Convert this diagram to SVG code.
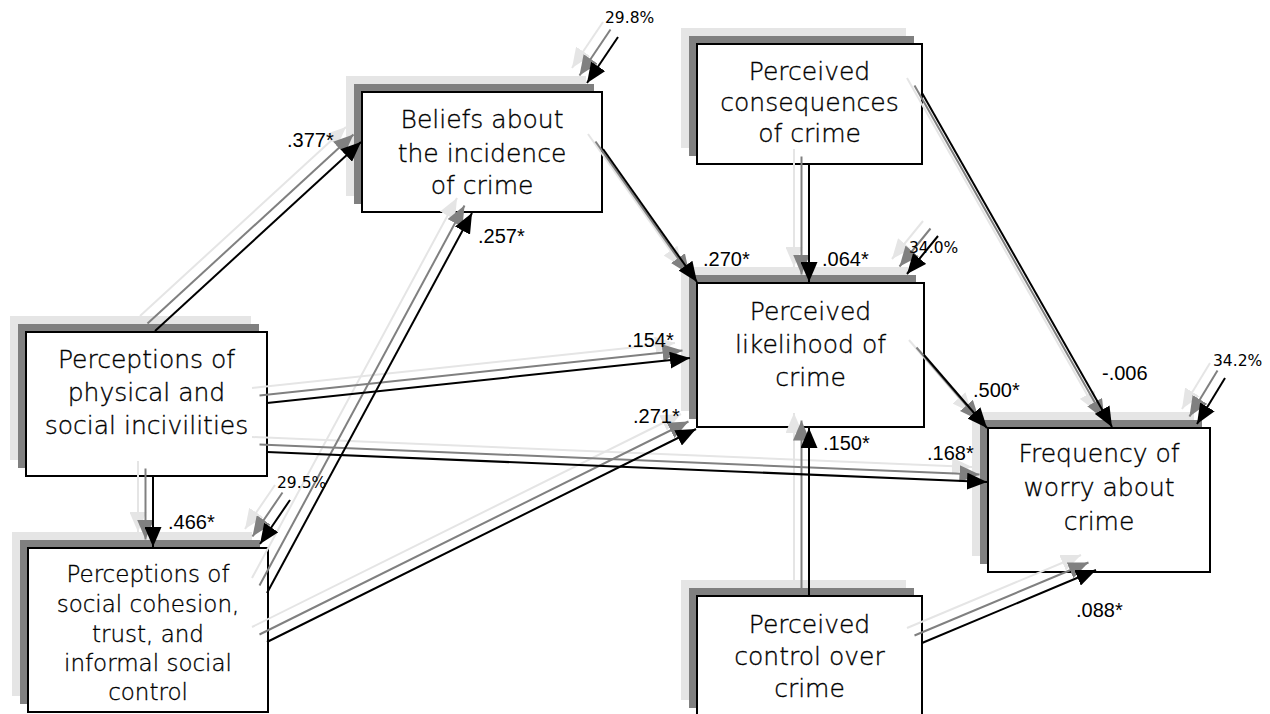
<svg xmlns="http://www.w3.org/2000/svg" width="1270" height="714" viewBox="0 0 1270 714">
<style>
.bg{fill:#ffffff}
.sl{fill:#e5e5e5}
.sd{fill:#808080}
.box{fill:#ffffff;stroke:#000000;stroke-width:2}
.nt{font-family:"DejaVu Sans","Liberation Sans",sans-serif;font-size:25px;font-weight:300;fill:#000000;stroke:#000000;stroke-width:0.35;text-anchor:middle}
.nts{font-size:23px}
.ln{fill:none;stroke-width:2}
.L .ln{stroke:#e5e5e5;marker-end:url(#aL)}
.D .ln{stroke:#808080;marker-end:url(#aD)}
.K .ln{stroke:#000000;marker-end:url(#aK)}
.coef{font-family:"Liberation Sans",Arial,sans-serif;font-size:20px;fill:#000000}
.pct{font-family:"DejaVu Sans","Liberation Sans",sans-serif;font-size:15.5px;fill:#000000}
</style>
<defs>
<marker id="aK" markerUnits="userSpaceOnUse" markerWidth="20" markerHeight="17" refX="20" refY="8.5" orient="auto"><path d="M0,0 L20,8.5 L0,17 z" fill="#000000"/></marker>
<marker id="aD" markerUnits="userSpaceOnUse" markerWidth="20" markerHeight="17" refX="20" refY="8.5" orient="auto"><path d="M0,0 L20,8.5 L0,17 z" fill="#808080"/></marker>
<marker id="aL" markerUnits="userSpaceOnUse" markerWidth="20" markerHeight="17" refX="20" refY="8.5" orient="auto"><path d="M0,0 L20,8.5 L0,17 z" fill="#e5e5e5"/></marker>
</defs>
<rect class="bg" x="0" y="0" width="1270" height="714"/>

<g id="node-beliefs">
<rect class="sl" x="346" y="76" width="240" height="120"/>
<rect class="sd" x="354" y="84" width="240" height="120"/>
<rect class="box" x="362" y="92" width="240" height="120"/>
<text class="nt"><tspan x="482" y="128">Beliefs about</tspan><tspan x="482" y="162">the incidence</tspan><tspan x="482" y="194">of crime</tspan></text>
</g>

<g id="node-consequences">
<rect class="sl" x="681" y="28" width="225" height="120"/>
<rect class="sd" x="689" y="36" width="225" height="120"/>
<rect class="box" x="697" y="44" width="225" height="120"/>
<text class="nt"><tspan x="809.5" y="80">Perceived</tspan><tspan x="809.5" y="111">consequences</tspan><tspan x="809.5" y="142">of crime</tspan></text>
</g>

<g id="node-incivilities">
<rect class="sl" x="10" y="316" width="241" height="144"/>
<rect class="sd" x="18" y="324" width="241" height="144"/>
<rect class="box" x="26" y="332" width="241" height="144"/>
<text class="nt"><tspan x="146.5" y="368">Perceptions of</tspan><tspan x="146.5" y="401">physical and</tspan><tspan x="146.5" y="434">social incivilities</tspan></text>
</g>

<g id="node-cohesion">
<rect class="sl" x="12" y="532" width="240" height="164"/>
<rect class="sd" x="20" y="540" width="240" height="164"/>
<rect class="box" x="28" y="548" width="240" height="164"/>
<text class="nt nts"><tspan x="148" y="582">Perceptions of</tspan><tspan x="148" y="612">social cohesion,</tspan><tspan x="148" y="642">trust, and</tspan><tspan x="148" y="671">informal social</tspan><tspan x="148" y="700">control</tspan></text>
</g>

<g id="node-likelihood">
<rect class="sl" x="681" y="267" width="227" height="144"/>
<rect class="sd" x="689" y="275" width="227" height="144"/>
<rect class="box" x="697" y="283" width="227" height="144"/>
<text class="nt"><tspan x="810.5" y="320">Perceived</tspan><tspan x="810.5" y="353">likelihood of</tspan><tspan x="810.5" y="386">crime</tspan></text>
</g>

<g id="node-frequency">
<rect class="sl" x="972" y="412" width="222" height="144"/>
<rect class="sd" x="980" y="420" width="222" height="144"/>
<rect class="box" x="988" y="428" width="222" height="144"/>
<text class="nt"><tspan x="1099" y="462">Frequency of</tspan><tspan x="1099" y="496">worry about</tspan><tspan x="1099" y="530">crime</tspan></text>
</g>

<g id="node-control">
<rect class="sl" x="681" y="580" width="225" height="120"/>
<rect class="sd" x="689" y="588" width="225" height="120"/>
<rect class="box" x="697" y="596" width="225" height="120"/>
<text class="nt"><tspan x="809.5" y="633">Perceived</tspan><tspan x="809.5" y="665">control over</tspan><tspan x="809.5" y="697">crime</tspan></text>
</g>

<g id="connectors">
<g class="L" transform="translate(-15,-15)">
<line class="ln" x1="155" y1="331" x2="361" y2="142"/>
<line class="ln" x1="267" y1="593" x2="472" y2="213"/>
<line class="ln" x1="267" y1="642" x2="696" y2="429"/>
<line class="ln" x1="267" y1="403" x2="690" y2="358"/>
<line class="ln" x1="267" y1="452" x2="987" y2="482"/>
<line class="ln" x1="153" y1="476" x2="153" y2="547"/>
<line class="ln" x1="603" y1="149" x2="697" y2="282"/>
<line class="ln" x1="809" y1="164" x2="809" y2="282"/>
<line class="ln" x1="922" y1="93" x2="1112" y2="427"/>
<line class="ln" x1="924" y1="355" x2="987" y2="428"/>
<line class="ln" x1="809" y1="596" x2="809" y2="428"/>
<line class="ln" x1="922" y1="643" x2="1096" y2="570"/>
<line class="ln" x1="618" y1="37" x2="587" y2="83"/>
<line class="ln" x1="938" y1="236" x2="907" y2="274"/>
<line class="ln" x1="1225" y1="378" x2="1197" y2="424"/>
<line class="ln" x1="290" y1="500" x2="260" y2="544"/>
</g>
<g class="D" transform="translate(-7.5,-7.5)">
<line class="ln" x1="155" y1="331" x2="361" y2="142"/>
<line class="ln" x1="267" y1="593" x2="472" y2="213"/>
<line class="ln" x1="267" y1="642" x2="696" y2="429"/>
<line class="ln" x1="267" y1="403" x2="690" y2="358"/>
<line class="ln" x1="267" y1="452" x2="987" y2="482"/>
<line class="ln" x1="153" y1="476" x2="153" y2="547"/>
<line class="ln" x1="603" y1="149" x2="697" y2="282"/>
<line class="ln" x1="809" y1="164" x2="809" y2="282"/>
<line class="ln" x1="922" y1="93" x2="1112" y2="427"/>
<line class="ln" x1="924" y1="355" x2="987" y2="428"/>
<line class="ln" x1="809" y1="596" x2="809" y2="428"/>
<line class="ln" x1="922" y1="643" x2="1096" y2="570"/>
<line class="ln" x1="618" y1="37" x2="587" y2="83"/>
<line class="ln" x1="938" y1="236" x2="907" y2="274"/>
<line class="ln" x1="1225" y1="378" x2="1197" y2="424"/>
<line class="ln" x1="290" y1="500" x2="260" y2="544"/>
</g>
<g class="K">
<line class="ln" x1="155" y1="331" x2="361" y2="142"/>
<line class="ln" x1="267" y1="593" x2="472" y2="213"/>
<line class="ln" x1="267" y1="642" x2="696" y2="429"/>
<line class="ln" x1="267" y1="403" x2="690" y2="358"/>
<line class="ln" x1="267" y1="452" x2="987" y2="482"/>
<line class="ln" x1="153" y1="476" x2="153" y2="547"/>
<line class="ln" x1="603" y1="149" x2="697" y2="282"/>
<line class="ln" x1="809" y1="164" x2="809" y2="282"/>
<line class="ln" x1="922" y1="93" x2="1112" y2="427"/>
<line class="ln" x1="924" y1="355" x2="987" y2="428"/>
<line class="ln" x1="809" y1="596" x2="809" y2="428"/>
<line class="ln" x1="922" y1="643" x2="1096" y2="570"/>
<line class="ln" x1="618" y1="37" x2="587" y2="83"/>
<line class="ln" x1="938" y1="236" x2="907" y2="274"/>
<line class="ln" x1="1225" y1="378" x2="1197" y2="424"/>
<line class="ln" x1="290" y1="500" x2="260" y2="544"/>
</g>
</g>

<g id="labels">
<text class="coef" x="287" y="147">.377*</text>
<text class="coef" x="478" y="243">.257*</text>
<text class="coef" x="168" y="529">.466*</text>
<text class="coef" x="703" y="266">.270*</text>
<text class="coef" x="822" y="266">.064*</text>
<text class="coef" x="627" y="347">.154*</text>
<text class="coef" x="633" y="423">.271*</text>
<text class="coef" x="823" y="450">.150*</text>
<text class="coef" x="927" y="460">.168*</text>
<text class="coef" x="973" y="397">.500*</text>
<text class="coef" x="1102" y="380">-.006</text>
<text class="coef" x="1076" y="617">.088*</text>
<text class="pct" x="605" y="23">29.8%</text>
<text class="pct" x="909" y="253">34.0%</text>
<text class="pct" x="1213" y="366">34.2%</text>
<text class="pct" x="277" y="488">29.5%</text>
</g>
</svg>
